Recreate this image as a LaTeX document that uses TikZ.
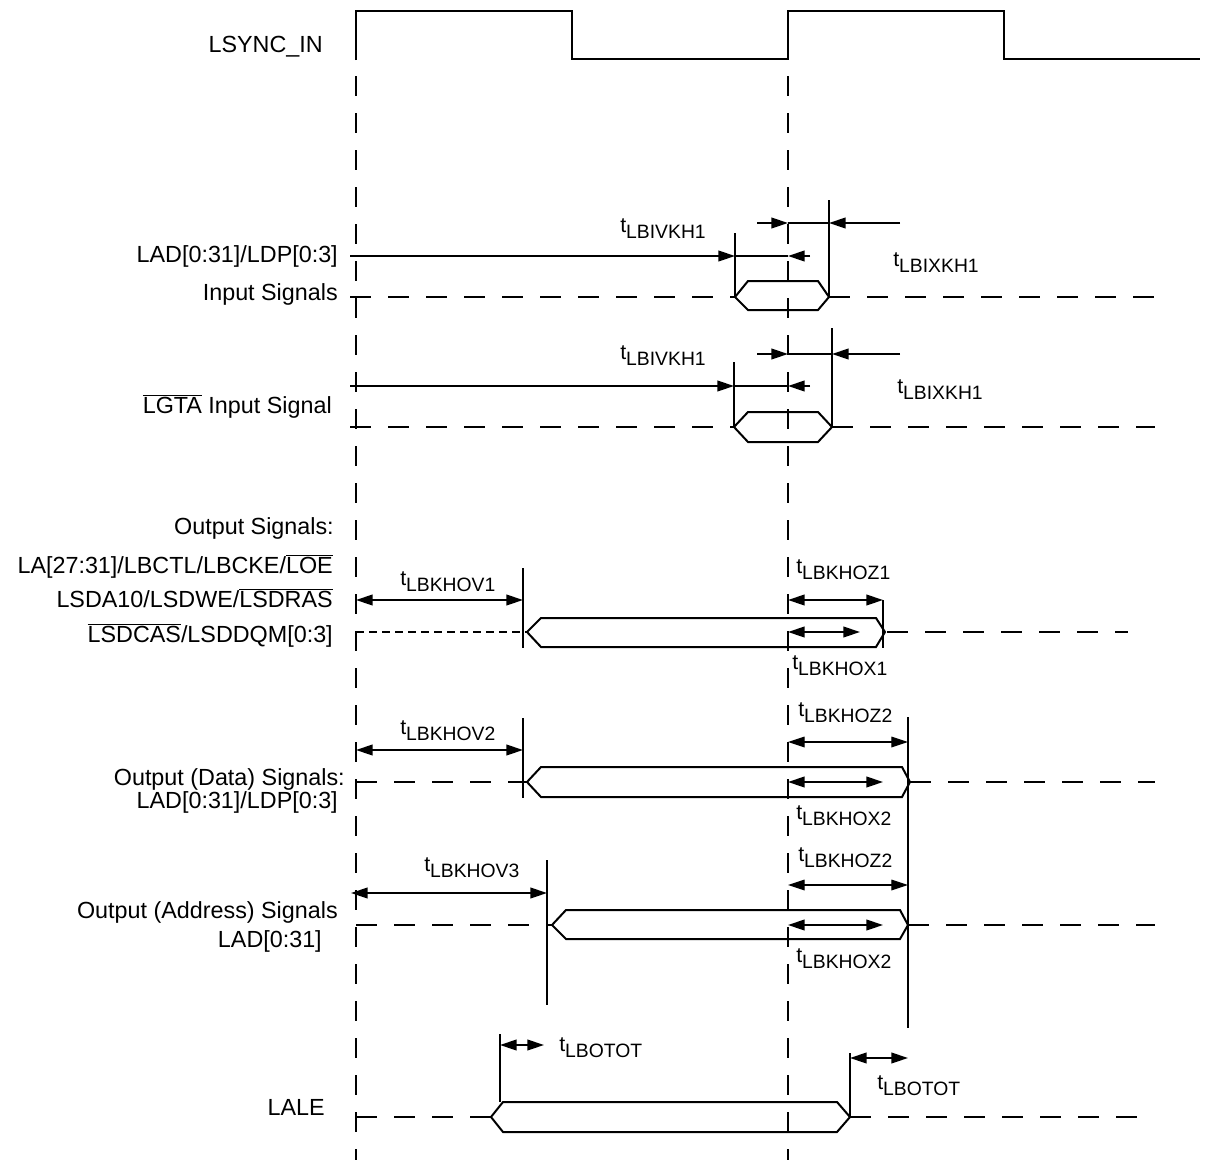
\documentclass[tikz,border=0pt]{standalone}
\usepackage{fontspec}
\setmainfont{Liberation Sans}
\usetikzlibrary{arrows.meta}
\newcommand\ovl[1]{\ensuremath{\overline{\mbox{#1}}}}
\newcommand\tsub[1]{{\fontsize{16}{19}\selectfont t\raisebox{-4.5pt}{\fontsize{14.5}{17}\selectfont #1}}}
\newcommand\hexa[7]{\draw[sig] (#1,#6) -- (#2,#5) -- (#3,#5) -- (#4,#6) -- (#3,#7) -- (#2,#7) -- cycle;}
\begin{document}
\begin{tikzpicture}[x=0.75pt,y=-0.75pt,
  sig/.style={line width=1.5pt},
  clk/.style={line width=1.9pt},
  thinl/.style={line width=0.9pt},
  vdash/.style={line width=1.5pt, dash pattern=on 15pt off 12.75pt},
  hdash/.style={line width=1.5pt, dash pattern=on 16pt off 12.5pt},
  sdash/.style={line width=1.3pt, dash pattern=on 6pt off 3.75pt},
  tip/.style={-{Triangle[length=12.5pt,width=8pt]}},
  dtip/.style={{Triangle[length=12.5pt,width=8pt]}-{Triangle[length=12.5pt,width=8pt]}},
  lab/.style={font=\fontsize{17.5}{20}\selectfont, inner sep=0pt, anchor=base east},
  tlab/.style={inner sep=0pt, anchor=west}]
\useasboundingbox (0,0) rectangle (1225,1160);

% clock
\draw[clk] (356,60) -- (356,11) -- (572,11) -- (572,59) -- (788,59) -- (788,11) -- (1004,11) -- (1004,59) -- (1200,59);
\node[lab] (lsync) at (323,52) {LSYNC\_IN};

% reference edges
\draw[vdash] (356,76) -- (356,1160);
\draw[vdash] (788,76) -- (788,1160);

% LAD input
\node[lab] (ladin1) at (338,262) {LAD[0:31]/LDP[0:3]};
\node[lab] (ladin2) at (338,300) {Input Signals};
\draw[sig,tip] (350,256) -- (735,256);
\draw[sig] (735,256) -- (788,256);
\draw[sig,tip] (810,256) -- (788,256);
\draw[sig,tip] (757,223) -- (788,223);
\draw[sig] (788,223) -- (829,223);
\draw[sig,tip] (900,223) -- (829,223);
\draw[sig] (735,233) -- (735,297);
\draw[sig] (829,200) -- (829,297);
\hexa{735}{748}{818}{829}{281}{297}{310}
\draw[hdash] (350,297) -- (735,297);
\draw[hdash] (829,297) -- (1155,297);
\node[tlab] (t1) at (620,229) {\tsub{LBIVKH1}};
\node[tlab] (t2) at (893,263) {\tsub{LBIXKH1}};

% LGTA
\node[lab] (lgta) at (332,413) {\ovl{LGTA} Input Signal};
\draw[sig,tip] (350,386) -- (734,386);
\draw[sig] (734,386) -- (788,386);
\draw[sig,tip] (810,386) -- (788,386);
\draw[sig,tip] (757,354) -- (788,354);
\draw[sig] (788,354) -- (832,354);
\draw[sig,tip] (900,354) -- (832,354);
\draw[thinl] (734,362) -- (734,427);
\draw[sig] (832,328) -- (832,427);
\hexa{734}{748}{818}{832}{412}{427}{442}
\draw[hdash] (350,427) -- (734,427);
\draw[hdash] (832,427) -- (1155,427);
\node[tlab] (t3) at (620,356) {\tsub{LBIVKH1}};
\node[tlab] (t4) at (897,390) {\tsub{LBIXKH1}};

% Output signals 1
\node[lab] (o1a) at (334,534) {Output Signals:};
\node[lab] (o1b) at (333,573) {LA[27:31]/LBCTL/LBCKE/\ovl{LOE}};
\node[lab] (o1c) at (333,607) {LSDA10/LSDWE/\ovl{LSDRAS}};
\node[lab] (o1d) at (333,642) {\ovl{LSDCAS}/LSDDQM[0:3]};
\draw[sig,dtip] (356,600) -- (523,600);
\draw[sig] (523,568) -- (523,648);
\hexa{527}{541}{876}{885}{618}{632}{647}
\draw[thinl] (883,600) -- (883,648);
\draw[sig,dtip] (788,600) -- (883,600);
\draw[sig,dtip] (788,632) -- (860,632);
\draw[sdash] (356,632) -- (527,632);
\draw[hdash] (887,632) -- (1128,632);
\node[tlab] (t5) at (400,582) {\tsub{LBKHOV1}};
\node[tlab] (t6) at (796,570) {\tsub{LBKHOZ1}};
\node[tlab] (t7) at (792,666) {\tsub{LBKHOX1}};

% Output data
\node[lab] (o2a) at (345,785) {Output (Data) Signals:};
\node[lab] (o2b) at (338,808) {LAD[0:31]/LDP[0:3]};
\draw[sig,dtip] (356,750) -- (523,750);
\draw[sig] (523,718) -- (523,798);
\hexa{527}{541}{902}{910}{767}{782}{797}
\draw[sig] (908,717) -- (908,1028);
\draw[thinl,dtip] (788,742) -- (908,742);
\draw[sig,dtip] (788,782) -- (883,782);
\draw[hdash] (356,782) -- (527,782);
\draw[hdash] (910,782) -- (1155,782);
\node[tlab] (t8) at (400,731) {\tsub{LBKHOV2}};
\node[tlab] (t9) at (798,713) {\tsub{LBKHOZ2}};
\node[tlab] (t10) at (796,816) {\tsub{LBKHOX2}};

% Output address
\node[lab] (o3a) at (338,918) {Output (Address) Signals};
\node[lab] (o3b) at (322,947) {LAD[0:31]};
\draw[sig,dtip] (351,893) -- (547,893);
\draw[sig] (547,860) -- (547,1005);
\hexa{552}{566}{900}{908}{910}{925}{939}
\draw[thinl,dtip] (788,885) -- (908,885);
\draw[sig,dtip] (788,925) -- (883,925);
\draw[hdash] (356,925) -- (552,925);
\draw[hdash] (908,925) -- (1155,925);
\node[tlab] (t11) at (424,868) {\tsub{LBKHOV3}};
\node[tlab] (t12) at (798,858) {\tsub{LBKHOZ2}};
\node[tlab] (t13) at (796,959) {\tsub{LBKHOX2}};

% LALE
\node[lab] (lale) at (325,1115) {LALE};
\draw[sig] (500,1034) -- (500,1102);
\draw[sig,dtip] (500,1045) -- (544,1045);
\hexa{491}{503}{837}{850}{1102}{1117}{1132}
\draw[sig] (850,1053) -- (850,1117);
\draw[sig,dtip] (850,1058) -- (908,1058);
\draw[hdash] (356,1117) -- (491,1117);
\draw[hdash] (850,1117) -- (1150,1117);
\node[tlab] (t14) at (559,1048) {\tsub{LBOTOT}};
\node[tlab] (t15) at (877,1086) {\tsub{LBOTOT}};
\end{tikzpicture}
\end{document}
